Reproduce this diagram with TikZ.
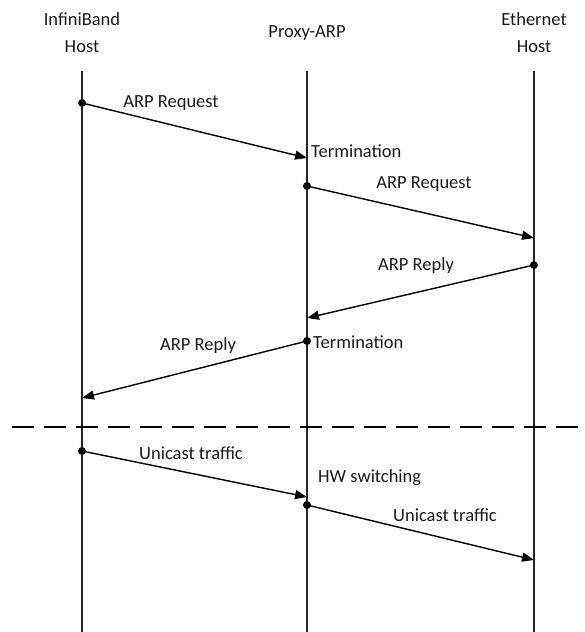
\documentclass[tikz,border=0pt]{standalone}
\usepackage{fontspec}
\setmainfont{Carlito}
\usetikzlibrary{arrows.meta}
\begin{document}
\begin{tikzpicture}[x=1pt,y=-1pt,
  lbl/.style={font=\fontsize{18.5}{27}\selectfont, text=black!90, inner sep=0pt},
  lifeline/.style={line width=1.2pt, black!85},
  msg/.style={line width=1.4pt, -{Triangle[length=12pt,width=9pt]}},
  dot/.style={circle, fill=black, inner sep=0pt, minimum size=8pt},
  sep/.style={line width=1.3pt, dash pattern=on 22pt off 10pt}]
\useasboundingbox (0,0) rectangle (584,632);

% participants
\node[lbl, align=center] (ib)  at (82,33)  {InfiniBand\\Host};
\node[lbl]               (pa)  at (307,33) {Proxy-ARP};
\node[lbl, align=center] (eth) at (534,33) {Ethernet\\Host};

% lifelines
\coordinate (ibT) at (82,71);   \coordinate (ibB) at (82,632);
\coordinate (paT) at (307,71);  \coordinate (paB) at (307,632);
\coordinate (ethT) at (534,71); \coordinate (ethB) at (534,632);
\draw[lifeline] (ibT) -- (ibB);
\draw[lifeline] (paT) -- (paB);
\draw[lifeline] (ethT) -- (ethB);

% ARP request, host to proxy
\node[dot] (s1) at (82,103) {};
\coordinate (e1) at (307,158);
\draw[msg] (s1.center) -- (e1);
\node[lbl] (l1) at (171,103) {ARP Request};
\node[lbl, anchor=west] (t1) at (311,151) {Termination};

% ARP request, proxy to ethernet host
\node[dot] (s2) at (307,186) {};
\coordinate (e2) at (534,238);
\draw[msg] (s2.center) -- (e2);
\node[lbl] (l2) at (424,184) {ARP Request};

% ARP reply, ethernet host to proxy
\node[dot] (s3) at (534,265) {};
\coordinate (e3) at (307,318);
\draw[msg] (s3.center) -- (e3);
\node[lbl] (l3) at (416,266) {ARP Reply};

% ARP reply, proxy to host
\node[dot] (s4) at (307,341) {};
\coordinate (e4) at (82,398);
\draw[msg] (s4.center) -- (e4);
\node[lbl, anchor=west] (t2) at (313,342) {Termination};
\node[lbl] (l4) at (198,346) {ARP Reply};

% separator
\coordinate (sepL) at (12,427);
\coordinate (sepR) at (584,427);
\draw[sep] (sepL) -- (sepR);

% unicast traffic
\node[dot] (s5) at (82,451) {};
\coordinate (e5) at (307,497);
\draw[msg] (s5.center) -- (e5);
\node[lbl] (l5) at (191,453) {Unicast traffic};
\node[lbl, anchor=west] (hw) at (318,478) {HW switching};

\node[dot] (s6) at (307,505) {};
\coordinate (e6) at (534,560);
\draw[msg] (s6.center) -- (e6);
\node[lbl] (l6) at (445,515) {Unicast traffic};
\end{tikzpicture}
\end{document}
